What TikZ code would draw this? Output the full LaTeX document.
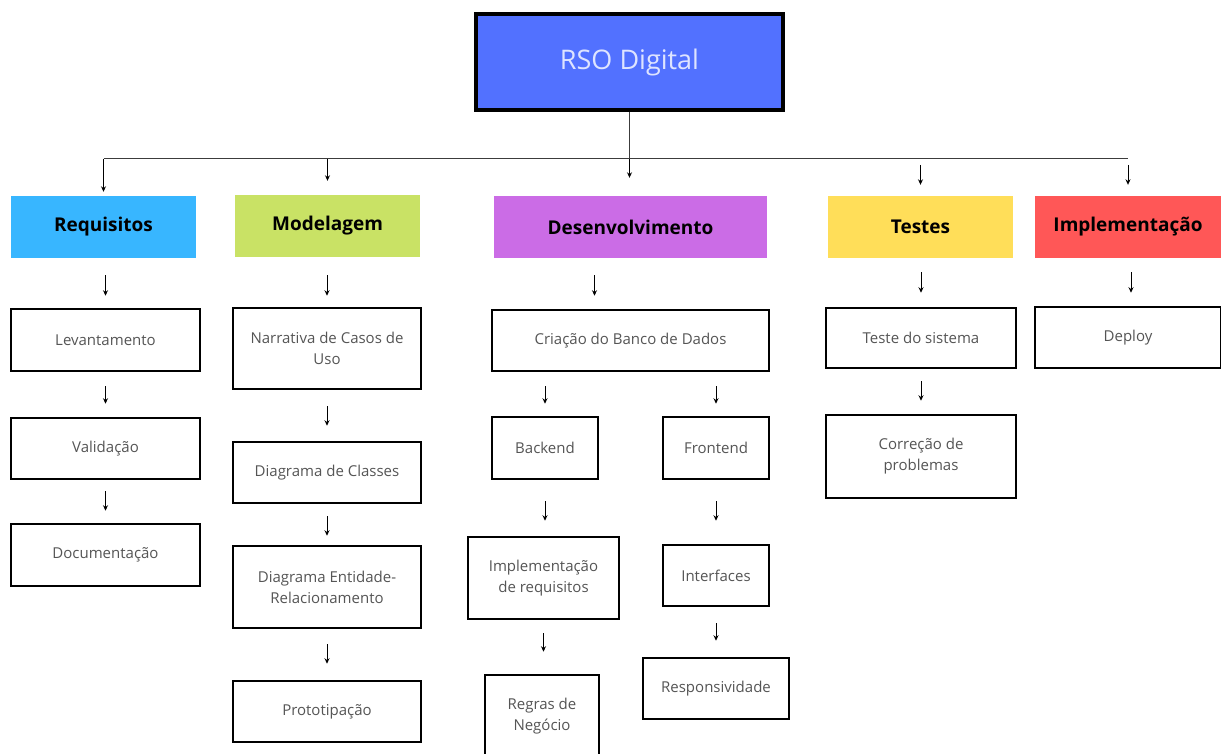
\documentclass[tikz,border=0pt]{standalone}
\usepackage{fontspec}
\setmainfont{Open Sans}
\usepackage{xcolor}
\usepackage{tikz}
\usetikzlibrary{positioning, arrows.meta}

\definecolor{azulrso}{RGB}{82,113,255}
\definecolor{textorso}{RGB}{222,228,255}
\definecolor{correq}{RGB}{56,182,255}
\definecolor{cormod}{RGB}{201,226,101}
\definecolor{cordev}{RGB}{203,108,230}
\definecolor{cortes}{RGB}{255,222,89}
\definecolor{corimp}{RGB}{255,87,87}
\definecolor{textocinza}{RGB}{85,85,85}
\definecolor{linhacinza}{RGB}{60,60,60}

\newcommand{\corpo}{\fontsize{15}{21}\selectfont}
\newcommand{\titulo}{\fontsize{19}{22}\selectfont\bfseries}

\tikzset{
  etapa/.style={draw=black, line width=2.5pt, fill=white, inner sep=0pt,
    align=center, text=textocinza, font=\corpo},
  fase/.style={inner sep=0pt, minimum height=62pt, text=black, font=\titulo},
  seta/.style={-{Stealth[length=5.5pt,width=5pt]}, line width=1pt, black},
  ligacao/.style={line width=1pt, draw=linhacinza}
}

\begin{document}
\begin{tikzpicture}[x=1pt, y=-1pt]
  \useasboundingbox (0,0) rectangle (1221,754);

  % topo
  \node[draw=black, line width=3.5pt, fill=azulrso, text=textorso, inner sep=0pt,
        minimum width=307pt, minimum height=96pt, font=\fontsize{27}{30}\selectfont]
        (rso) at (629.5,62) {RSO Digital};

  % fases
  \node[fase, fill=correq, minimum width=185pt] (req) at (103.5,227) {Requisitos};
  \node[fase, fill=cormod, minimum width=185pt] (mod) at (327.5,226) {Modelagem};
  \node[fase, fill=cordev, minimum width=273pt] (dev) at (630.5,227) {Desenvolvimento};
  \node[fase, fill=cortes, minimum width=185pt] (tes) at (920.5,227) {Testes};
  \node[fase, fill=corimp, minimum width=186pt] (imp) at (1128,227) {Implementação};

  % barramento
  \coordinate (bus) at (629.5,159);
  \draw[ligacao] (rso.south) -- (rso.south |- bus);
  \draw[ligacao] (req.north |- bus) -- (imp.north |- bus);
  \draw[seta, shorten >=4pt] (req.north |- bus) -- (req.north);
  \draw[seta, shorten >=14pt] (mod.north |- bus) -- (mod.north);
  \draw[seta, shorten >=18pt] (rso.south |- bus) -- (rso.south |- dev.north);
  \draw[seta, shorten <=6pt, shorten >=11pt] (tes.north |- bus) -- (tes.north);
  \draw[seta, shorten <=6pt, shorten >=11pt] (imp.north |- bus) -- (imp.north);

  % Requisitos
  \node[etapa, minimum width=189pt, minimum height=62pt] (lev) at (105.5,340) {Levantamento};
  \node[etapa, minimum width=189pt, minimum height=61pt] (val) at (105.5,448.5) {Validação};
  \node[etapa, minimum width=189pt, minimum height=62pt] (doc) at (105.5,555) {Documentação};
  \draw[seta, shorten <=17pt, shorten >=12pt] (req.south -| lev.north) -- (lev.north);
  \draw[seta, shorten <=14pt, shorten >=13pt] (lev) -- (val);
  \draw[seta, shorten <=11pt, shorten >=12pt] (val) -- (doc);

  % Modelagem
  \node[etapa, minimum width=188pt, minimum height=81pt] (narr) at (327,348.5) {Narrativa de Casos de\\Uso};
  \node[etapa, minimum width=188pt, minimum height=61pt] (dcl) at (327,472.5) {Diagrama de Classes};
  \node[etapa, minimum width=188pt, minimum height=82pt] (der) at (327,587) {Diagrama Entidade-\\Relacionamento};
  \node[etapa, minimum width=188pt, minimum height=61pt] (proto) at (327,711.5) {Prototipação};
  \draw[seta, shorten <=18pt, shorten >=11pt] (mod.south -| narr.north) -- (narr.north);
  \draw[seta, shorten <=16pt, shorten >=15pt] (narr) -- (dcl);
  \draw[seta, shorten <=12pt, shorten >=9pt] (dcl) -- (der);
  \draw[seta, shorten <=15pt, shorten >=16pt] (der) -- (proto);

  % Desenvolvimento
  \node[etapa, minimum width=277pt, minimum height=61pt] (cri) at (630.5,340.5) {Criação do Banco de Dados};
  \node[etapa, minimum width=106pt, minimum height=62pt] (back) at (545,448) {Backend};
  \node[etapa, minimum width=106pt, minimum height=62pt] (front) at (716,448) {Frontend};
  \node[etapa, minimum width=151pt, minimum height=82pt] (impl) at (543.5,578) {Implementação\\de requisitos};
  \node[etapa, minimum width=106pt, minimum height=61pt] (interf) at (716,575.5) {Interfaces};
  \node[etapa, minimum width=114pt, minimum height=82pt] (regras) at (542,716) {Regras de\\Negócio};
  \node[etapa, minimum width=146pt, minimum height=61pt] (resp) at (716,688.5) {Responsividade};
  \draw[seta, shorten <=17pt, shorten >=13pt] ([xshift=-36pt]dev.south) -- ([xshift=-36pt]cri.north);
  \draw[seta, shorten <=14pt, shorten >=12pt] (cri.south -| back.north) -- (back.north);
  \draw[seta, shorten <=14pt, shorten >=12pt] (cri.south -| front.north) -- (front.north);
  \draw[seta, shorten <=21pt, shorten >=15pt] (back.south) -- (back.south |- impl.north);
  \draw[seta, shorten <=21pt, shorten >=23pt] (front) -- (interf);
  \draw[seta, shorten <=13pt, shorten >=22pt] (impl) -- (impl.south |- regras.north);
  \draw[seta, shorten <=16pt, shorten >=16pt] (interf) -- (resp);

  % Testes
  \node[etapa, minimum width=190pt, minimum height=60pt] (teste) at (921,338) {Teste do sistema};
  \node[etapa, minimum width=190pt, minimum height=83pt] (corr) at (921,456.5) {Correção de\\problemas};
  \draw[seta, shorten <=14pt, shorten >=14pt] (tes.south -| teste.north) -- (teste.north);
  \draw[seta, shorten <=12pt, shorten >=13pt] (teste) -- (corr);

  % Implementacao
  \node[etapa, minimum width=186pt, minimum height=61pt] (deploy) at (1128,337.5) {Deploy};
  \draw[seta, shorten <=14pt, shorten >=13pt] ([xshift=3pt]imp.south) -- ([xshift=3pt]deploy.north);

\end{tikzpicture}
\end{document}
